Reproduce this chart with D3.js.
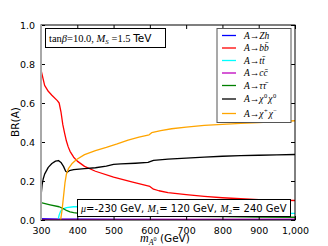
<!DOCTYPE html>
<html lang="en">
  <head>
    <meta charset="utf-8">
    <title>BR_A</title>
    <script src="https://d3js.org/d3.v7.min.js"></script>
    <style>
      body { margin: 0; background: white; }
      text { font-family: "DejaVu Sans", sans-serif; }
      .m { font-family: "Liberation Serif", "DejaVu Serif", serif; font-style: italic; }
      .r { font-family: "Liberation Serif", "DejaVu Serif", serif; }
    </style>
  </head>
  <body>
  <script>

// data

  var xTicks = [300, 400, 500, 600, 700, 800, 900, 1000];
  var yTicks = [0.0, 0.2, 0.4, 0.6, 0.8, 1.0];

  var zhX = [300, 350, 400, 500, 700, 1000];
  var zhY = [0.007, 0.005, 0.004, 0.003, 0.002, 0.002];

  var bbX = [300, 305, 310, 320, 330, 345, 350, 355, 360, 365, 370, 375, 380, 390, 400, 420, 450, 500, 550, 600, 610, 625, 650, 700, 750, 800, 850, 900, 950, 1000];
  var bbY = [0.77, 0.73, 0.69, 0.66, 0.64, 0.612, 0.60, 0.555, 0.49, 0.445, 0.405, 0.375, 0.352, 0.322, 0.302, 0.275, 0.25, 0.22, 0.195, 0.172, 0.158, 0.15, 0.14, 0.13, 0.121, 0.114, 0.109, 0.105, 0.102, 0.10];

  var ttX = [347, 350, 354, 360, 370, 390, 400, 500, 600, 700, 800, 900, 1000];
  var ttY = [0.0, 0.025, 0.045, 0.056, 0.063, 0.068, 0.069, 0.06, 0.05, 0.044, 0.04, 0.036, 0.034];

  var ccX = [300, 500, 1000];
  var ccY = [0.003, 0.003, 0.004];

  var tauX = [300, 325, 350, 360, 370, 380, 390, 400, 500, 600, 700, 800, 900, 1000];
  var tauY = [0.089, 0.078, 0.068, 0.06, 0.049, 0.042, 0.038, 0.035, 0.027, 0.022, 0.019, 0.017, 0.015, 0.014];

  var neuX = [300, 303, 306, 310, 320, 330, 340, 348, 355, 362, 368, 372, 378, 390, 420, 450, 480, 500, 520, 560, 595, 610, 650, 700, 750, 800, 850, 900, 950, 1000];
  var neuY = [0.12, 0.18, 0.21, 0.235, 0.27, 0.29, 0.302, 0.305, 0.295, 0.275, 0.25, 0.245, 0.253, 0.258, 0.263, 0.268, 0.276, 0.285, 0.288, 0.291, 0.295, 0.306, 0.312, 0.317, 0.322, 0.327, 0.33, 0.332, 0.334, 0.336];

  var chaX = [354, 358, 362, 366, 370, 376, 385, 398, 420, 450, 480, 510, 540, 570, 598, 605, 630, 660, 700, 750, 800, 850, 900, 950, 1000];
  var chaY = [0.0, 0.05, 0.12, 0.19, 0.235, 0.265, 0.288, 0.31, 0.335, 0.356, 0.372, 0.39, 0.41, 0.425, 0.437, 0.448, 0.458, 0.468, 0.476, 0.485, 0.49, 0.495, 0.5, 0.505, 0.509];

  var series = [
    {name: "Zh", xs: zhX, ys: zhY, color: "#0000ff"},
    {name: "bb", xs: bbX, ys: bbY, color: "#ff0000"},
    {name: "tt", xs: ttX, ys: ttY, color: "#00ffff"},
    {name: "cc", xs: ccX, ys: ccY, color: "#bf00bf"},
    {name: "tau", xs: tauX, ys: tauY, color: "#008000"},
    {name: "neu", xs: neuX, ys: neuY, color: "#000000"},
    {name: "cha", xs: chaX, ys: chaY, color: "#ffa500"}
  ];

// svg and scales

  var w = 328;
  var h = 246;
  var margin = {top: 25, right: 33, bottom: 26, left: 41};
  var innerWidth = w - margin.left - margin.right;
  var innerHeight = h - margin.top - margin.bottom;

  var xScale = d3.scaleLinear()
      .domain([300, 1000])
      .range([0, innerWidth]);

  var yScale = d3.scaleLinear()
      .domain([0, 1])
      .range([innerHeight, 0]);

  var svg = d3.select("body")
    .append("svg")
      .attr("width", w)
      .attr("height", h);

  var plot = svg.append("g")
      .attr("transform", `translate(${margin.left}, ${margin.top})`);

  plot.append("clipPath")
      .attr("id", "clip")
    .append("rect")
      .attr("width", innerWidth)
      .attr("height", innerHeight);

// curves

  var line = d3.line()
      .x(d => xScale(d[0]))
      .y(d => yScale(d[1]));

  plot.append("g")
      .attr("clip-path", "url(#clip)")
    .selectAll("path")
      .data(series)
    .enter().append("path")
      .attr("d", s => line(s.xs.map((x, i) => [x, s.ys[i]])))
      .attr("fill", "none")
      .attr("stroke", s => s.color)
      .attr("stroke-width", 1.3)
      .attr("stroke-linejoin", "round");

// axes (ticks inside, all four sides)

  var tickStyle = g => {
    g.select(".domain").remove();
    g.selectAll("line").attr("stroke", "#000");
    g.selectAll("text").attr("font-size", 9.5).attr("fill", "#000")
      .attr("font-family", "DejaVu Sans, sans-serif");
  };

  plot.append("g")
      .attr("transform", `translate(0, ${innerHeight})`)
      .call(d3.axisBottom(xScale).tickValues(xTicks).tickSizeInner(-4).tickSizeOuter(0).tickPadding(7))
      .call(tickStyle);

  plot.append("g")
      .call(d3.axisTop(xScale).tickValues(xTicks).tickSizeInner(-4).tickSizeOuter(0).tickFormat(""))
      .call(tickStyle);

  plot.append("g")
      .call(d3.axisLeft(yScale).tickValues(yTicks).tickSizeInner(-4).tickSizeOuter(0).tickPadding(6)
        .tickFormat(d3.format(".1f")))
      .call(tickStyle);

  plot.append("g")
      .attr("transform", `translate(${innerWidth}, 0)`)
      .call(d3.axisRight(yScale).tickValues(yTicks).tickSizeInner(-4).tickSizeOuter(0).tickFormat(""))
      .call(tickStyle);

  plot.append("rect")
      .attr("width", innerWidth)
      .attr("height", innerHeight)
      .attr("fill", "none")
      .attr("stroke", "#000")
      .attr("stroke-width", 1);

  // the grey left spine
  plot.append("rect")
      .attr("x", -1)
      .attr("y", 0)
      .attr("width", 2)
      .attr("height", innerHeight)
      .attr("fill", "#a8a8a8");

// rich text helper: parts are [text, class, baseline shift, size, dx]

  function rich(sel, parts, size) {
    var t = sel.append("text").attr("font-size", size);
    var shift = 0;
    parts.forEach(p => {
      var s = p[2] || 0;
      var sp = t.append("tspan")
          .text(p[0])
          .attr("dy", s - shift);
      if (p[1]) sp.attr("class", p[1]);
      if (p[3]) sp.attr("font-size", p[3]);
      if (p[4]) sp.attr("dx", p[4]);
      shift = s;
    });
    return t;
  }

// annotation boxes

  svg.append("rect")
      .attr("x", 45.5).attr("y", 28.5)
      .attr("width", 120).attr("height", 19)
      .attr("fill", "white").attr("stroke", "#000");

  rich(svg, [["tan", "r"], ["β", "m"], ["=10.0, ", "r"], ["M", "m"], ["S", "m", 2, 7], [" =1.5 ", "r", 0], ["TeV"]], 10.5)
      .attr("x", 49).attr("y", 42);

  svg.append("rect")
      .attr("x", 77.5).attr("y", 199.5)
      .attr("width", 213).attr("height", 17)
      .attr("fill", "white").attr("stroke", "#000");

  rich(svg, [["μ", "m"], ["=-230 GeV, "], ["M", "m"], ["1", "r", 2, 7], ["= 120 GeV, ", null, 0],
             ["M", "m"], ["2", "r", 2, 7], ["= 240 GeV", null, 0]], 10)
      .attr("x", 81).attr("y", 212);

// legend

  var labels = [
    [["A", "m"], ["→", "r"], ["Zh", "m"]],
    [["A", "m"], ["→", "r"], ["bb̄", "m"]],
    [["A", "m"], ["→", "r"], ["tt̄", "m"]],
    [["A", "m"], ["→", "r"], ["cc̄", "m"]],
    [["A", "m"], ["→", "r"], ["ττ̄", "m"]],
    [["A", "m"], ["→", "r"], ["χ", "m"], ["0", "r", -4, 6.5, 0.5], ["χ", "m", 0, 0, 1], ["0", "r", -4, 6.5, 0.5]],
    [["A", "m"], ["→", "r"], ["χ", "m"], ["+", "r", -4, 6.5, 0.5], ["χ", "m", 0, 0, 1], ["−", "r", -4, 6.5, 0.5]]
  ];
  var rowsY = [35.5, 48, 60.5, 73, 85.5, 99, 113.5];

  var legend = svg.append("g");
  legend.append("rect")
      .attr("x", 217).attr("y", 28.5)
      .attr("width", 74).attr("height", 94)
      .attr("fill", "white").attr("stroke", "#555").attr("stroke-width", 1);

  series.forEach((s, i) => {
    legend.append("line")
        .attr("x1", 222).attr("x2", 236)
        .attr("y1", rowsY[i]).attr("y2", rowsY[i])
        .attr("stroke", s.color)
        .attr("stroke-width", 1.3);
    rich(legend, labels[i], 9.5)
        .attr("x", 244).attr("y", rowsY[i] + 3);
  });

// axis titles

  svg.append("text")
      .attr("transform", "translate(19, 122) rotate(-90)")
      .attr("text-anchor", "middle")
      .attr("font-size", 10.5)
      .text("BR(A)");

  rich(svg, [["m", "m", 0, 12], ["A", "m", 3, 8], ["0", "r", -1, 6], [" (GeV)", null, 0]], 10.5)
      .attr("x", 140).attr("y", 242);

  </script>
  </body>
</html>
